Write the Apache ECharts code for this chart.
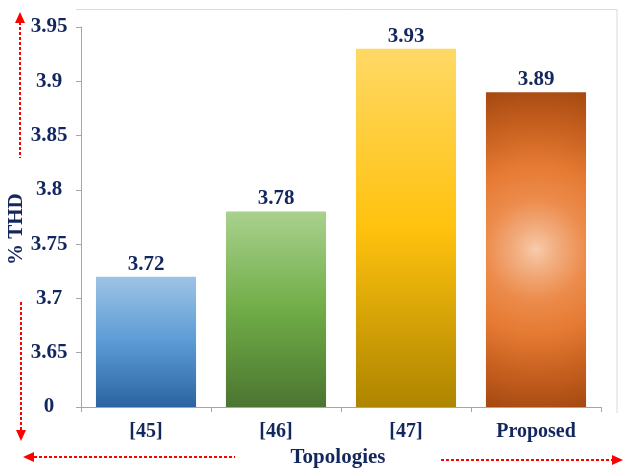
<!DOCTYPE html>
<html><head><meta charset="utf-8">
<script src="https://cdn.jsdelivr.net/npm/echarts@6/dist/echarts.min.js"></script>
<style>html,body{margin:0;padding:0;background:#fff}#c{width:625px;height:471px}</style>
</head><body><div id="c"></div>
<script>
const categories = ['[45]', '[46]', '[47]', 'Proposed'];
const thdValues = [3.72, 3.78, 3.93, 3.89];
const yTickLabels = ['0', '3.65', '3.7', '3.75', '3.8', '3.85', '3.9', '3.95'];
const axisBase = 3.6;

const navy = '#13275F';
const font = 'Liberation Serif, Times New Roman, serif';
const lg = (a, b, c) => new echarts.graphic.LinearGradient(0, 0, 0, 1, [
  {offset: 0, color: a}, {offset: 0.5, color: b}, {offset: 1, color: c}]);
const barColors = [
  lg('#9DC3E6', '#5B9BD5', '#2B64A0'),
  lg('#A9D18E', '#70AD47', '#4B7530'),
  lg('#FFD966', '#FFC20E', '#AE8500'),
  new echarts.graphic.RadialGradient(0.5, 0.5, 1.7, [
    {offset: 0, color: '#F7CBAC'}, {offset: 0.12, color: '#F2AE80'},
    {offset: 0.3, color: '#EC8B4B'}, {offset: 0.5, color: '#E57A32'},
    {offset: 0.75, color: '#C45E1E'}, {offset: 1, color: '#A0460F'}])
];

const chart = echarts.init(document.getElementById('c'));
const red = '#FF0000';
const dash = {stroke: red, lineWidth: 2, lineDash: [3, 2]};
chart.setOption({
  animation: false,
  grid: {left: 81, right: 24, top: 27, bottom: 64},
  xAxis: {
    type: 'category', data: categories,
    axisLine: {lineStyle: {color: '#A6A6A6'}},
    axisTick: {show: true, length: 5, lineStyle: {color: '#A6A6A6'}},
    axisLabel: {color: navy, fontFamily: font, fontWeight: 'bold', fontSize: 20, margin: 15}
  },
  yAxis: {
    type: 'value', min: axisBase, max: 3.95, interval: 0.05,
    splitLine: {show: false},
    axisLine: {show: true, lineStyle: {color: '#A6A6A6'}},
    axisTick: {show: true, length: 5, lineStyle: {color: '#A6A6A6'}},
    axisLabel: {
      color: navy, fontFamily: font, fontWeight: 'bold', fontSize: 21,
      align: 'center', margin: 32,
      formatter: v => yTickLabels[Math.round((v - axisBase) / 0.05)]
    }
  },
  series: [{
    type: 'bar', barWidth: '77%',
    data: thdValues.map((v, i) => ({value: v, itemStyle: {color: barColors[i]}})),
    label: {show: true, position: 'top', distance: 2, color: navy, fontFamily: font,
      fontWeight: 'bold', fontSize: 21}
  }],
  graphic: [
    {type: 'line', shape: {x1: 76, y1: 9.5, x2: 617, y2: 9.5}, style: {stroke: '#D9D9D9', lineWidth: 1}},
    {type: 'line', shape: {x1: 617, y1: 9.5, x2: 617, y2: 413}, style: {stroke: '#D9D9D9', lineWidth: 1}},
    {type: 'text', rotation: Math.PI / 2, x: 6, y: 265,
      style: {text: '% THD', fill: navy, font: 'bold 21px ' + font}},
    {type: 'text', x: 338, y: 458, style: {text: 'Topologies', fill: navy, font: 'bold 21px ' + font,
      textAlign: 'center', textVerticalAlign: 'middle'}},
    {type: 'line', shape: {x1: 20, y1: 22, x2: 20, y2: 158}, style: dash},
    {type: 'polygon', shape: {points: [[20, 12], [15, 23], [25, 23]]}, style: {fill: red}},
    {type: 'line', shape: {x1: 21, y1: 302, x2: 21, y2: 430}, style: dash},
    {type: 'polygon', shape: {points: [[21, 441], [16, 430], [26, 430]]}, style: {fill: red}},
    {type: 'line', shape: {x1: 34, y1: 457, x2: 235, y2: 457}, style: dash},
    {type: 'polygon', shape: {points: [[23, 457], [34, 452], [34, 462]]}, style: {fill: red}},
    {type: 'line', shape: {x1: 441, y1: 460, x2: 612, y2: 460}, style: dash},
    {type: 'polygon', shape: {points: [[623, 460], [612, 455], [612, 465]]}, style: {fill: red}}
  ]
});
</script></body></html>
